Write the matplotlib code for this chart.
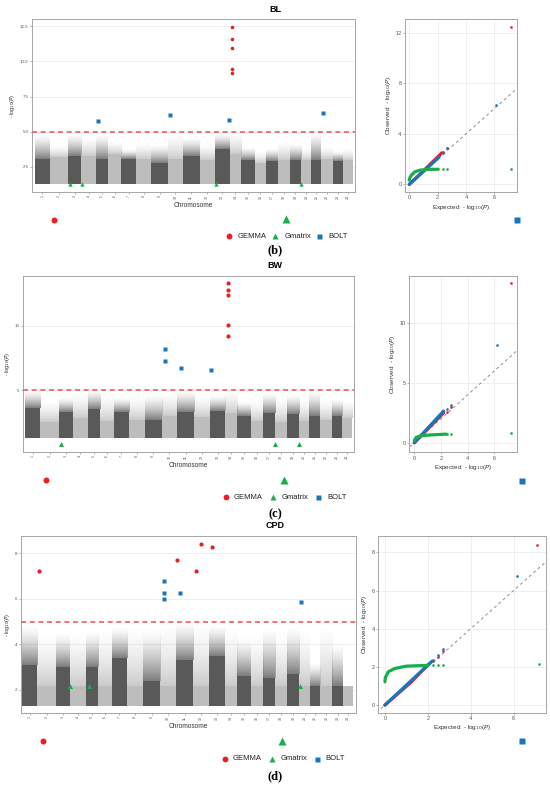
import numpy as np
import matplotlib.pyplot as plt
from matplotlib.colors import to_rgb

W, H = 550, 785

# chromosome sizes (relative, read from block widths) and labels
chrom_len = [150, 180, 133, 150, 117, 133, 150, 150, 167, 150, 167, 150,
             150, 117, 133, 117, 117, 117, 117, 100, 100, 117, 100, 100]
chrom_labels = [str(i) for i in range(1, 25)]
baseline = 1.3
threshold = 5.0

# Manhattan background: top of dense cloud and top of sparse cloud per chromosome
bl_dense = [3.1, 3.2, 3.3, 3.3, 3.1, 3.4, 3.1, 3.1, 2.8, 3.1, 3.3, 3.0,
            3.8, 3.4, 3.0, 2.8, 2.9, 3.0, 3.0, 3.0, 3.0, 3.1, 2.9, 3.0]
bl_top = [4.9, 4.0, 4.9, 4.6, 4.9, 4.3, 3.8, 4.3, 4.1, 4.9, 4.6, 4.2,
          4.9, 5.0, 3.9, 3.6, 3.8, 4.3, 4.2, 3.8, 5.0, 4.0, 3.6, 3.8]
bw_dense = [3.6, 2.5, 3.3, 2.8, 3.5, 2.6, 3.3, 2.7, 2.7, 3.0, 3.3, 2.9,
            3.4, 3.2, 3.0, 2.6, 3.2, 2.5, 3.1, 2.6, 3.0, 2.7, 3.0, 2.8]
bw_top = [5.0, 4.2, 4.4, 4.8, 5.0, 4.7, 4.4, 4.6, 4.7, 4.8, 5.0, 4.6,
          4.6, 5.0, 4.1, 4.3, 4.8, 4.4, 4.6, 4.4, 5.0, 4.3, 4.4, 4.2]
cpd_dense = [3.1, 2.15, 3.0, 2.15, 3.0, 2.15, 3.4, 2.15, 2.4, 2.15, 3.3, 2.15,
             3.5, 2.15, 2.6, 2.15, 2.5, 2.15, 2.7, 2.15, 2.15, 2.15, 2.15, 2.15]
cpd_top = [4.9, 4.4, 4.5, 4.6, 4.6, 4.7, 4.8, 4.8, 4.7, 5.0, 5.0, 5.0,
           4.9, 4.8, 4.3, 4.4, 4.7, 4.5, 4.8, 4.7, 3.2, 4.8, 4.0, 2.15]

# significant hits: (chromosome, position within chromosome, -log10 P)
bl_gemma = [(14, 20, 12.48), (14, 20, 11.62), (14, 20, 10.94), (14, 20, 9.44), (14, 20, 9.16)]
bl_gmatrix = [(3, 20, 1.3), (4, 7, 1.3), (13, 13, 1.3), (19, 112, 1.3)]
bl_bolt = [(5, 14, 5.79), (10, 23, 6.2), (13, 146, 5.84), (22, 12, 6.32)]

bw_gemma = [(14, 26, 13.3), (14, 28, 12.77), (14, 26, 12.43), (14, 27, 10.1), (14, 26, 9.24)]
bw_gmatrix = [(3, 23, 0.8), (17, 115, 0.8), (20, 1, 0.8)]
bw_bolt = [(10, 31, 8.16), (10, 31, 7.25), (11, 33, 6.74), (13, 11, 6.55)]

cpd_gemma = [(2, 19, 7.24), (11, 14, 7.69), (12, 26, 7.24), (12, 74, 8.40), (13, 27, 8.28)]
cpd_gmatrix = [(4, 2, 2.17), (5, 30, 2.17), (20, 1, 2.17)]
cpd_bolt = [(10, 33, 6.77), (10, 33, 6.24), (10, 33, 6.0), (11, 40, 6.27), (20, 17, 5.87)]

# QQ plots: dense part as (x, y) traces, plus the separate top points
bl_qq_gemma_curve = [(0, 0), (1.0, 1.08), (2.3, 2.5)]
bl_qq_bolt_curve = [(0, 0), (2.1, 2.15)]
bl_qq_gmatrix_curve = [(0, 0.34), (0.05, 0.55), (0.16, 0.74), (0.4, 1.0), (0.75, 1.13), (1.34, 1.19), (2.05, 1.2)]
bl_qq_gemma_pts = [(2.4, 2.6), (2.69, 2.85), (7.18, 12.48)]
bl_qq_bolt_pts = [(2.4, 2.5), (2.69, 2.9), (6.12, 6.3)]
bl_qq_gmatrix_pts = [(2.4, 1.2), (2.69, 1.2), (7.16, 1.24)]

bw_qq_gemma_curve = [(0, 0), (2.2, 2.5)]
bw_qq_bolt_curve = [(0, 0), (2.2, 2.65)]
bw_qq_gmatrix_curve = [(0, 0.2), (0.05, 0.3), (0.15, 0.45), (0.42, 0.56), (1.05, 0.64), (2.4, 0.72)]
bw_qq_gemma_pts = [(2.42, 2.6), (2.72, 2.95), (7.22, 13.34)]
bw_qq_bolt_pts = [(2.42, 2.79), (2.72, 3.18), (6.22, 8.16)]
bw_qq_gmatrix_pts = [(2.42, 0.72), (2.72, 0.74), (7.22, 0.78)]

cpd_qq_gemma_curve = [(0, 0), (1.2, 1.18), (2.0, 2.1)]
cpd_qq_bolt_curve = [(0, 0), (2.2, 2.3)]
cpd_qq_gmatrix_curve = [(0, 1.22), (0.02, 1.45), (0.16, 1.75), (0.47, 1.92), (1.0, 2.04), (2.0, 2.08)]
cpd_qq_gemma_pts = [(2.23, 2.3), (2.46, 2.53), (2.69, 2.83), (7.09, 8.38)]
cpd_qq_bolt_pts = [(2.23, 2.36), (2.46, 2.62), (2.69, 2.95), (6.15, 6.76)]
cpd_qq_gmatrix_pts = [(2.23, 2.08), (2.46, 2.08), (2.69, 2.08), (7.17, 2.15)]

RED = '#ee1d23'
GREEN = '#19ad4b'
BLUE = '#1a75bb'
DARK = '#595959'
LIGHT = '#bdbdbd'
FRAME = '#a6a6a6'
GRID = '#ececec'

plt.rcParams['font.family'] = ['Liberation Sans', 'DejaVu Sans']
fig = plt.figure(figsize=(W / 100, H / 100), dpi=100)


def px_axes(l, t, r, b):
    return fig.add_axes([l / W, 1 - b / H, (r - l) / W, (b - t) / H])


def style(ax):
    for s in ax.spines.values():
        s.set_color(FRAME)
        s.set_linewidth(0.7)
    ax.tick_params(length=1.5, width=0.4, color='#777777', pad=1)
    ax.set_axisbelow(True)


starts = np.concatenate([[0], np.cumsum(chrom_len)[:-1]])
centers = starts + np.array(chrom_len) / 2
block_colors = [DARK if i % 2 == 0 else LIGHT for i in range(len(chrom_len))]

# vertical fade used to draw the thinning point cloud above the dense part
fade = np.linspace(0.85, 0.0, 64) ** 1.5


def manhattan(box, dense, top, gemma, gmatrix, bolt, xlim, ylim, yticks, ylabels, ms):
    ax = px_axes(*box)
    style(ax)
    for x0, w, d, t, col in zip(starts, chrom_len, dense, top, block_colors):
        if t > d:
            img = np.zeros((len(fade), 1, 4))
            img[..., :3] = to_rgb(col)
            img[:, 0, 3] = fade
            ax.imshow(img, extent=(x0, x0 + w, d, t), origin='lower', aspect='auto',
                      interpolation='bilinear', zorder=1)
    ax.bar(centers, np.array(dense) - baseline, width=chrom_len, bottom=baseline,
           color=block_colors, linewidth=0, zorder=2)
    ax.axhline(threshold, color='#f25a5a', lw=1.2, ls=(0, (3, 2.2)), zorder=3)
    for hits, col, mk, sz in [(gemma, RED, 'o', ms), (gmatrix, GREEN, '^', ms * 1.2),
                              (bolt, BLUE, 's', ms)]:
        xs = [starts[c - 1] + p for c, p, v in hits]
        ys = [v for c, p, v in hits]
        ax.plot(xs, ys, ls='none', marker=mk, ms=sz, color=col, mec='none', zorder=5)
    ax.set_xlim(*xlim)
    ax.set_ylim(*ylim)
    ax.set_xticks(centers)
    ax.set_xticklabels(chrom_labels, rotation=90, fontsize=2.6, color='#555555')
    ax.set_yticks(yticks)
    ax.set_yticklabels(ylabels, fontsize=3.2, color='#555555')
    ax.yaxis.grid(True, color=GRID, lw=0.6)
    ax.set_xlabel('Chromosome', fontsize=4.7, color='#333333', labelpad=2)
    ax.set_ylabel(r'- log$_{10}$($P$)', fontsize=4, color='#333333', labelpad=2)
    return ax


def qq(box, curves, pts, xlim, ylim, yticks):
    ax = px_axes(*box)
    style(ax)
    ax.grid(True, color=GRID, lw=0.6)
    ax.plot([-1, 9], [-1, 9], color='#8c8c8c', lw=0.7, ls=(0, (3, 3)), zorder=1)
    cols = [RED, BLUE, GREEN]
    for curve, col in zip(curves, cols):
        cx, cy = zip(*curve)
        ax.plot(cx, cy, color=col, lw=2.3, solid_capstyle='round', zorder=3)
    for pt, col in zip(pts, cols):
        px_, py_ = zip(*pt)
        ax.plot(px_, py_, ls='none', marker='o', ms=1.9, color=col, mec='none', zorder=4)
    ax.set_xlim(*xlim)
    ax.set_ylim(*ylim)
    ax.set_xticks([0, 2, 4, 6])
    ax.set_yticks(yticks)
    ax.tick_params(labelsize=4, labelcolor='#555555')
    ax.set_xlabel(r'Expected  - log$_{10}$($P$)', fontsize=4.6, color='#333333', labelpad=1.5)
    ax.set_ylabel(r'Observed  - log$_{10}$($P$)', fontsize=4.6, color='#333333', labelpad=1.5)
    return ax


# overlay for titles, legends and panel letters
ov = fig.add_axes([0, 0, 1, 1], zorder=10)
ov.set_xlim(0, W)
ov.set_ylim(H, 0)
ov.axis('off')


def legend_row(y, xs):
    c, t, s = xs
    ov.plot(c, y, 'o', ms=4.2, color=RED, mec='none')
    ov.text(c + 8, y, 'GEMMA', fontsize=5.5, va='center', color='#222222')
    ov.plot(t, y, '^', ms=4.6, color=GREEN, mec='none')
    ov.text(t + 9, y, 'Gmatrix', fontsize=5.5, va='center', color='#222222')
    ov.plot(s, y, 's', ms=3.6, color=BLUE, mec='none')
    ov.text(s + 9, y, 'BOLT', fontsize=5.5, va='center', color='#222222')


def panel_extras(title, ty, keys, leg_y, leg_x, letter, ly):
    ov.text(275, ty, title, fontsize=6.5, fontweight='bold', ha='center', va='center')
    (cx, cy), (tx, tyy), (sx, sy) = keys
    ov.plot(cx, cy, 'o', ms=4.3, color=RED, mec='none')
    ov.plot(tx, tyy, '^', ms=5.2, color=GREEN, mec='none')
    ov.plot(sx, sy, 's', ms=4.4, color=BLUE, mec='none')
    legend_row(leg_y, leg_x)
    ov.text(275, ly, letter, fontsize=9, fontweight='bold', ha='center', va='center',
            family='Liberation Serif')


# (b) BL
manhattan((32, 19, 355, 192), bl_dense, bl_top, bl_gemma, bl_gmatrix, bl_bolt,
          (-30, 3202), (0.72, 13.02), [2.5, 5.0, 7.5, 10.0, 12.5],
          ['2.5', '5.0', '7.5', '10.0', '12.5'], 2.6)
qq((405, 19, 517, 192),
   [bl_qq_gemma_curve, bl_qq_bolt_curve, bl_qq_gmatrix_curve],
   [bl_qq_gemma_pts, bl_qq_bolt_pts, bl_qq_gmatrix_pts],
   (-0.3, 7.6), (-0.6, 13.1), [0, 4, 8, 12])
panel_extras('BL', 9.3, [(54, 219.7), (285.7, 219), (516.7, 219.5)], 236.3,
             (229.3, 275.3, 319.3), '(b)', 250)

# (c) BW
manhattan((22.7, 275.7, 354, 451.7), bw_dense, bw_top, bw_gemma, bw_gmatrix, bw_bolt,
          (-22, 3199), (0.2, 13.9), [5, 10], ['5', '10'], 3.0)
qq((409.3, 275.7, 516.7, 452.3),
   [bw_qq_gemma_curve, bw_qq_bolt_curve, bw_qq_gmatrix_curve],
   [bw_qq_gemma_pts, bw_qq_bolt_pts, bw_qq_gmatrix_pts],
   (-0.375, 7.68), (-0.8, 13.96), [0, 5, 10])
panel_extras('BW', 265, [(45.7, 480), (283.7, 479.5), (521.7, 480.7)], 497.3,
             (226, 272.7, 318.3), '(c)', 514.3)

# (d) CPD
manhattan((20.7, 536, 356, 712.7), cpd_dense, cpd_top, cpd_gemma, cpd_gmatrix, cpd_bolt,
          (-10, 3208), (0.99, 8.76), [2, 4, 6, 8], ['2', '4', '6', '8'], 3.0)
qq((378.3, 536, 545.7, 712.7),
   [cpd_qq_gemma_curve, cpd_qq_bolt_curve, cpd_qq_gmatrix_curve],
   [cpd_qq_gemma_pts, cpd_qq_bolt_pts, cpd_qq_gmatrix_pts],
   (-0.31, 7.5), (-0.4, 8.86), [0, 2, 4, 6, 8])
panel_extras('CPD', 526, [(42.7, 741.3), (282.3, 740.5), (521.7, 740.7)], 758.7,
             (225, 271.7, 316.7), '(d)', 776)

fig.savefig('out.png', dpi=100)
